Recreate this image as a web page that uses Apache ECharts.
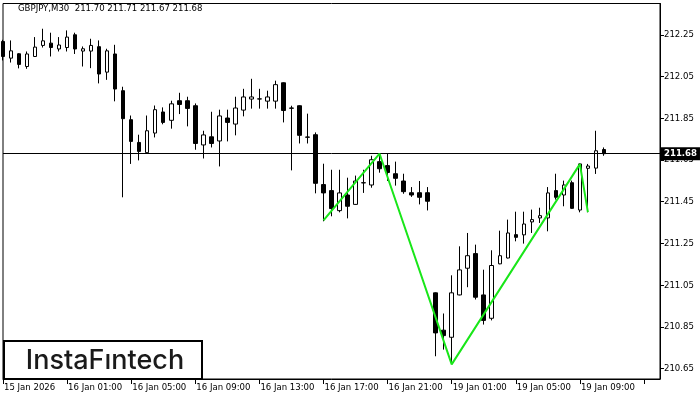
<!DOCTYPE html>
<html><head><meta charset="utf-8">
<script src="https://cdn.jsdelivr.net/npm/echarts@6/dist/echarts.min.js"></script>
<style>html,body{margin:0;padding:0;background:#fff}#c{width:700px;height:400px}</style>
</head><body><div id="c"></div>
<script>
// OHLC per 30-min bar (GBPJPY, M30)
const opens = [212.218,212.138,212.159,212.098,212.146,212.199,212.210,212.182,212.189,212.250,
212.172,212.172,212.193,212.071,212.158,211.982,211.843,211.734,211.685,211.779,
211.880,211.840,211.934,211.934,211.910,211.722,211.761,211.741,211.851,211.822,
211.889,211.942,211.942,211.932,211.932,212.020,211.899,211.910,211.760,211.771,
211.532,211.503,211.407,211.482,211.437,211.540,211.530,211.642,211.623,211.584,
211.549,211.493,211.493,211.493,211.013,210.834,210.800,211.003,211.131,211.201,
211.003,210.891,211.152,211.180,211.292,211.291,211.353,211.372,211.372,211.503,
211.482,211.541,211.410,211.610,211.611,211.700];
const highs = [212.226,212.223,212.162,212.170,212.239,212.279,212.260,212.239,212.271,212.260,
212.194,212.231,212.223,212.183,212.202,212.001,211.863,211.771,211.863,211.911,
211.902,211.934,211.972,211.953,211.921,211.790,211.881,211.891,211.891,211.953,
211.991,212.039,211.991,211.982,212.030,212.022,211.910,211.912,211.872,211.782,
211.632,211.603,211.603,211.565,211.575,211.603,211.670,211.683,211.683,211.642,
211.584,211.520,211.549,211.520,211.015,210.914,211.097,211.236,211.300,211.244,
211.124,211.217,211.311,211.364,211.402,211.402,211.412,211.421,211.520,211.584,
211.551,211.551,211.633,211.631,211.790,211.710];
const lows = [212.127,212.117,212.089,212.087,212.144,212.189,212.146,212.170,212.170,212.158,
212.098,212.090,212.017,212.034,211.931,211.471,211.631,211.648,211.683,211.758,
211.821,211.800,211.870,211.811,211.699,211.657,211.710,211.619,211.739,211.768,
211.859,211.896,211.896,211.896,211.896,211.830,211.600,211.729,211.729,211.490,
211.356,211.380,211.399,211.370,211.435,211.492,211.517,211.589,211.549,211.527,
211.488,211.473,211.437,211.408,210.709,210.741,210.677,211.001,211.040,210.981,
210.861,210.881,211.150,211.178,211.260,211.249,211.300,211.348,211.308,211.460,
211.428,211.416,211.399,211.399,211.583,211.670];
const closes = [212.146,212.173,212.108,212.158,212.191,212.221,212.189,212.201,212.239,212.182,
212.183,212.199,212.062,212.173,211.990,211.848,211.739,211.691,211.790,211.891,
211.830,211.919,211.916,211.897,211.729,211.770,211.729,211.861,211.830,211.899,
211.952,211.952,211.943,211.952,212.011,211.887,211.898,211.768,211.759,211.538,
211.492,211.417,211.492,211.428,211.549,211.541,211.651,211.608,211.590,211.562,
211.498,211.482,211.471,211.452,210.821,210.808,211.013,211.123,211.191,210.992,
210.881,211.144,211.191,211.300,211.279,211.343,211.364,211.383,211.492,211.471,
211.530,211.418,211.631,211.621,211.694,211.680];

const tickLabels = ['15 Jan 2026','16 Jan 01:00','16 Jan 05:00','16 Jan 09:00','16 Jan 13:00',
  '16 Jan 17:00','16 Jan 21:00','19 Jan 01:00','19 Jan 05:00','19 Jan 09:00'];
const yTickValues = [210.65,210.85,211.05,211.25,211.45,211.65,211.85,212.05,212.25];

// Pattern (green) polyline: bar index and price
const patternIdx = [40,47,56,72,73];
const patternVal = [211.36,211.68,210.67,211.63,211.40];

const slotCount = 83; // visible bar slots incl. empty right margin
const titleText = 'GBPJPY,M30  211.70 211.71 211.67 211.68';
const logoText = 'InstaFıntech';

const categories = Array.from({length: slotCount}, (_, i) => String(i));
const candleData = opens.map((o, i) => [o, closes[i], lows[i], highs[i]]);
const patternData = patternIdx.map((x, i) => [x, patternVal[i]]);
const lastClose = closes[closes.length - 1];

const FONT = "'DejaVu Sans Condensed','Liberation Sans',sans-serif";
const chart = echarts.init(document.getElementById('c'), null, {renderer: 'canvas'});
chart.setOption({
  animation: false,
  backgroundColor: '#fff',
  grid: {left: 3, right: 40, top: 3.5, bottom: 21, show: true, borderColor: '#000', borderWidth: 1, backgroundColor: 'transparent'},
  xAxis: {
    type: 'category', data: categories, boundaryGap: false,
    axisLine: {show: true, lineStyle: {color: '#000', width: 1}},
    axisTick: {show: true, length: 5, lineStyle: {color: '#000'}, interval: (i) => i % 8 === 0},
    axisLabel: {
      show: true, interval: (i) => i % 8 === 0 && i / 8 < tickLabels.length,
      formatter: (v, i) => tickLabels[i / 8] || '',
      align: 'left', margin: 4, color: '#000', fontSize: 9.5, fontFamily: FONT, padding: [0, 0, 0, 1]
    },
    splitLine: {show: false}
  },
  yAxis: {
    type: 'value', position: 'right', min: 210.6, max: 212.4, scale: true,
    axisLine: {show: true, lineStyle: {color: '#000', width: 1}},
    axisTick: {show: true, length: 4, lineStyle: {color: '#000'}, customValues: yTickValues},
    axisLabel: {show: true, customValues: yTickValues, formatter: (v) => v.toFixed(2),
      color: '#000', fontSize: 9.5, fontFamily: FONT, margin: 4},
    splitLine: {show: false}
  },
  series: [
    {
      type: 'candlestick', data: candleData, barWidth: 4,
      itemStyle: {color: '#ffffff', color0: '#000000', borderColor: '#000000', borderColor0: '#000000', borderWidth: 1},
      markLine: {
        silent: true, symbol: ['none', 'none'], animation: false,
        lineStyle: {color: '#000', width: 1, type: 'solid'},
        label: {show: true, position: 'end', distance: 1, formatter: () => lastClose.toFixed(2),
          backgroundColor: '#000', color: '#fff', fontSize: 9.5, fontFamily: FONT, fontWeight: 'bold', padding: [2, 3, 1, 3]},
        data: [{yAxis: lastClose}]
      }
    },
    {
      type: 'line', data: patternData, symbol: 'none', z: 5,
      lineStyle: {color: '#19e619', width: 2}
    }
  ],
  graphic: [
    {type: 'text', left: 18, top: 4, style: {text: titleText, fill: '#000', font: "9.5px " + FONT}},
    {type: 'group', left: 3, top: 340, children: [
      {type: 'rect', shape: {x: 0, y: 0, width: 198, height: 38}, style: {fill: '#fff', stroke: '#000', lineWidth: 2}},
      {type: 'text', x: 101, y: 20, style: {text: logoText, fill: '#1a1a1a', font: "500 27px Inter, 'Noto Sans', sans-serif", align: 'center', verticalAlign: 'middle'}}
    ]}
  ]
});
</script></body></html>
